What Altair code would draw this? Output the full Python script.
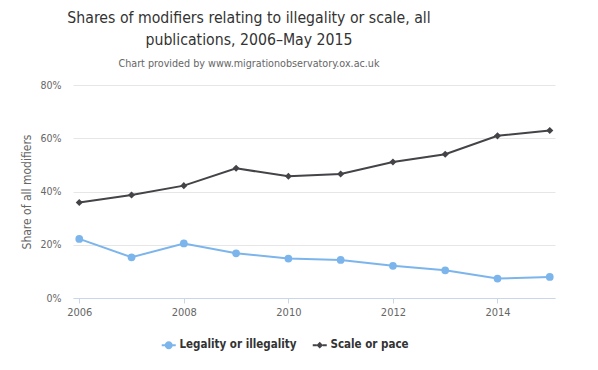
import altair as alt
import pandas as pd

years = [2006, 2007, 2008, 2009, 2010, 2011, 2012, 2013, 2014, 2015]
legality = [22.2, 15.3, 20.5, 16.8, 14.8, 14.3, 12.1, 10.4, 7.3, 7.9]
scale = [35.9, 38.7, 42.2, 48.7, 45.7, 46.6, 51.1, 54.0, 60.9, 62.9]
series_names = ["Legality or illegality", "Scale or pace"]
series_colors = ["#7cb5ec", "#434348"]
y_ticks = [0, 20, 40, 60, 80]
x_ticks = [2006, 2008, 2010, 2012, 2014]

rows = []
for y, v in zip(years, legality):
    rows.append({"year": y, "share": v, "series": series_names[0]})
for y, v in zip(years, scale):
    rows.append({"year": y, "share": v, "series": series_names[1]})
df = pd.DataFrame(rows)

FONT = "DejaVu Sans Condensed"

# legend glyphs: short line segments with a circle / diamond in the middle
seg = "M-1.75,-0.25H-0.75V0.25H-1.75ZM0.75,-0.25H1.75V0.25H0.75Z"
circ_path = seg + "M-1,0A1,1,0,1,1,1,0A1,1,0,1,1,-1,0Z"
dia_path = seg + "M0,-0.85L0.85,0L0,0.85L-0.85,0Z"

x_enc = alt.X(
    "year:Q",
    scale=alt.Scale(domain=[2005.88, 2015.1], nice=False, zero=False),
    axis=alt.Axis(
        values=x_ticks, format="d", title=None, grid=False,
        domainColor="#ccd6eb", tickColor="#ccd6eb", tickSize=5,
        labelColor="#666666", labelFont=FONT, labelFontSize=11, labelPadding=3,
    ),
)
y_enc = alt.Y(
    "share:Q",
    scale=alt.Scale(domain=[0, 80], nice=False),
    axis=alt.Axis(
        values=y_ticks, labelExpr="datum.value + '%'",
        title="Share of all modifiers", titleFont=FONT, titleFontSize=12,
        titleFontWeight="normal", titleColor="#666666", titlePadding=7,
        labelColor="#666666", labelFont=FONT, labelFontSize=10.5, labelPadding=12,
        domain=False, ticks=False, gridColor="#e6e6e6",
    ),
)
legend_cfg = alt.Legend(
    title=None, orient="none", direction="horizontal",
    legendX=90, legendY=254,
    labelFont=FONT, labelFontSize=11.5, labelFontWeight="bold",
    labelColor="#333333", symbolSize=64, symbolStrokeWidth=0,
    symbolOpacity=1, columnPadding=15, labelOffset=5,
)
color_enc = alt.Color(
    "series:N",
    scale=alt.Scale(domain=series_names, range=series_colors),
    legend=legend_cfg,
)

base = alt.Chart(df).encode(x=x_enc, y=y_enc, color=color_enc)

lines = base.mark_line(strokeWidth=2)
pts_circle = base.transform_filter(alt.datum.series == series_names[0]).mark_point(
    shape="circle", filled=True, size=60, opacity=1
)
pts_diamond = base.transform_filter(alt.datum.series == series_names[1]).mark_point(
    shape="diamond", filled=True, size=50, opacity=1
)
legend_layer = base.transform_filter("false").mark_point(filled=True, opacity=1).encode(
    shape=alt.Shape(
        "series:N",
        scale=alt.Scale(domain=series_names, range=[circ_path, dia_path]),
        legend=legend_cfg,
    )
)

chart = (
    alt.layer(lines, pts_circle, pts_diamond, legend_layer)
    .properties(
        width=482,
        height=213,
        autosize=alt.AutoSizeParams(type="none"),
        padding={"left": 65, "top": 77, "right": 35, "bottom": 64},
        title=alt.TitleParams(
            text=["Shares of modifiers relating to illegality or scale, all",
                  "publications, 2006\u2013May 2015"],
            subtitle="Chart provided by www.migrationobservatory.ox.ac.uk",
            anchor="middle", dx=-65, offset=10,
            font=FONT, fontSize=15.7, fontWeight="normal", color="#333333",
            lineHeight=22,
            subtitleFont=FONT, subtitleFontSize=10.7, subtitleColor="#666666",
            subtitlePadding=11,
        ),
    )
    .configure_view(stroke=None)
)

chart.save("out.html", embed_options={"renderer": "svg", "actions": False})
